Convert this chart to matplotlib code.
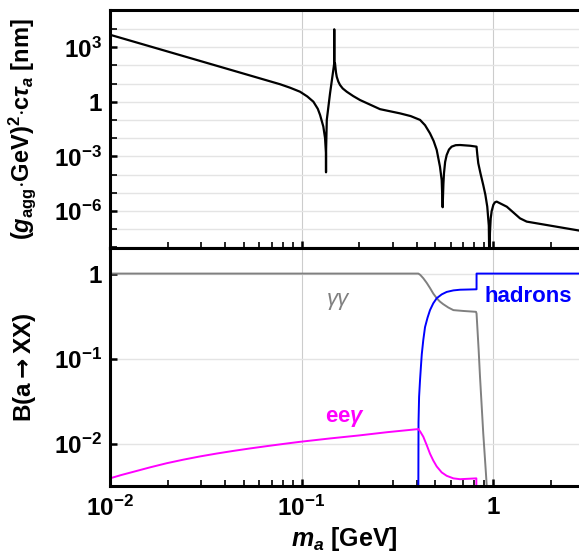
import numpy as np
import matplotlib
matplotlib.use("Agg")
import matplotlib.pyplot as plt
from matplotlib.ticker import FixedLocator, NullFormatter, FixedFormatter, LogLocator

plt.rcParams['font.family'] = ['Liberation Sans', 'DejaVu Sans']
plt.rcParams['font.weight'] = 'bold'
plt.rcParams['axes.labelweight'] = 'bold'
plt.rcParams['mathtext.fontset'] = 'custom'
plt.rcParams['mathtext.rm'] = 'Liberation Sans:bold'
plt.rcParams['mathtext.bf'] = 'Liberation Sans:bold'
plt.rcParams['mathtext.it'] = 'Liberation Sans:italic:bold'
plt.rcParams['mathtext.sf'] = 'DejaVu Sans'

# ---------------- data (log10 values) ----------------
# top panel: (g_agg GeV)^2 c tau_a [nm]  vs  m_a [GeV]
life_logm = [-2.0, -1.5, -1.2, -1.112, -1.06, -1.008, -0.97, -0.938, -0.915, -0.903, -0.886,
             -0.877, -0.8725, -0.872, -0.8715, -0.868, -0.851, -0.834, -0.8295, -0.829,
             -0.8285, -0.825, -0.82, -0.816, -0.808, -0.799, -0.785, -0.764, -0.73, -0.694,
             -0.59, -0.486, -0.43, -0.381, -0.355, -0.329, -0.31, -0.294, -0.277,
             -0.268, -0.263, -0.259, -0.256, -0.25, -0.242, -0.23, -0.216, -0.195, -0.172,
             -0.12, -0.086, -0.082, -0.077, -0.065, -0.051, -0.040, -0.030, -0.022, -0.019,
             -0.016, -0.012, -0.007, 0.002, 0.010, 0.019, 0.072, 0.141, 0.176, 0.449]
life_logy = [3.69, 2.16, 1.24, 0.97, 0.78, 0.56, 0.30, 0.01, -0.38, -0.72, -1.36,
             -2.0, -2.8, -3.87, -2.6, -0.99, 0.47, 1.75, 2.1, 3.99,
             2.15, 2.12, 1.62, 1.38, 1.12, 0.93, 0.74, 0.56, 0.32, 0.10,
             -0.40, -0.63, -0.78, -0.99, -1.28, -1.73, -2.15, -2.64, -3.56,
             -4.3, -5.79, -4.5, -3.92, -3.3, -2.92, -2.62, -2.46, -2.38, -2.37,
             -2.41, -2.46, -2.9, -3.37, -3.95, -4.57, -5.1, -5.76, -6.8, -9.0,
             -7.2, -6.4, -6.0, -5.65, -5.52, -5.48, -5.76, -6.40, -6.58, -7.07]

# bottom panel: branching ratios B(a -> XX)
gg_logm = [-2.0, -0.39, -0.38, -0.364, -0.346, -0.329, -0.312, -0.294, -0.277, -0.26,
           -0.233, -0.207, -0.155, -0.089, -0.086, -0.082, -0.075, -0.068, -0.051,
           -0.037, -0.030]
gg_logy = [0.0, 0.0, -0.015, -0.055, -0.11, -0.17, -0.235, -0.29, -0.33, -0.36,
           -0.40, -0.43, -0.44, -0.45, -0.47, -0.625, -0.9, -1.21, -1.88,
           -2.35, -2.6]

had_logm = [-0.390, -0.389, -0.386, -0.381, -0.376, -0.372, -0.364, -0.355, -0.342,
            -0.329, -0.312, -0.294, -0.268, -0.242, -0.207, -0.172, -0.086, -0.0859, 0.449]
had_logy = [-2.6, -1.75, -1.45, -1.25, -1.08, -0.95, -0.78, -0.63, -0.52,
            -0.43, -0.35, -0.29, -0.245, -0.216, -0.198, -0.19, -0.185, 0.0, 0.0]

eeg_logm = [-2.0, -1.94, -1.878, -1.79, -1.704, -1.617, -1.53, -1.443, -1.356, -1.269,
            -1.182, -1.095, -1.008, -0.85, -0.7, -0.55, -0.39,
            -0.38, -0.364, -0.346, -0.329, -0.312, -0.294, -0.268, -0.242,
            -0.207, -0.172, -0.087, -0.0869]
eeg_logy = [-2.41, -2.37, -2.333, -2.28, -2.232, -2.19, -2.152, -2.118, -2.087, -2.058,
            -2.031, -2.005, -1.98, -1.94, -1.905, -1.866, -1.83,
            -1.86, -1.92, -2.02, -2.12, -2.2, -2.27, -2.34, -2.38,
            -2.41, -2.42, -2.41, -2.6]

x_ticks = [0.01, 0.1, 1.0]
x_ticklabels = [r'$10^{-2}$', r'$10^{-1}$', '1']
top_yticks = [1e3, 1.0, 1e-3, 1e-6]
top_yticklabels = [r'$10^{3}$', '1', r'$10^{-3}$', r'$10^{-6}$']
bot_yticks = [1.0, 0.1, 0.01]
bot_yticklabels = ['1', r'$10^{-1}$', r'$10^{-2}$']

# ---------------- figure ----------------
W, H = 579, 559
fig = plt.figure(figsize=(W / 100, H / 100), dpi=100)
L = 110 / W
ax1 = fig.add_axes([L, 1 - 248 / H, 1 - L, (248 - 10) / H])
ax2 = fig.add_axes([L, 1 - 486 / H, 1 - L, (486 - 248) / H])

xmin, xmax = 0.01, 10 ** 0.449
TFS = 17.5

ax1.plot(np.power(10.0, life_logm), np.power(10.0, life_logy), color='black', lw=1.6)
ax1.set_ylim(10 ** -8.03, 10 ** 5.05)

ax2.plot(np.power(10.0, gg_logm), np.power(10.0, gg_logy), color='#808080', lw=1.4)
ax2.plot(np.power(10.0, had_logm), np.power(10.0, had_logy), color='#0000ff', lw=1.4)
ax2.plot(np.power(10.0, eeg_logm), np.power(10.0, eeg_logy), color='#ff00ff', lw=1.4)
ax2.set_ylim(10 ** -2.5, 2.0)

for ax in (ax1, ax2):
    ax.set_xscale('log')
    ax.set_yscale('log')
    ax.set_xlim(xmin, xmax)
    for s in ('left', 'top', 'bottom'):
        ax.spines[s].set_linewidth(2.2)
    ax.spines['right'].set_visible(False)
    ax.xaxis.set_major_locator(FixedLocator(x_ticks))
    ax.xaxis.set_minor_locator(LogLocator(base=10, subs=np.arange(2, 10)))
    ax.xaxis.set_minor_formatter(NullFormatter())
    ax.tick_params(which='major', axis='both', direction='in', length=5, width=1.8,
                   labelsize=TFS, top=False, right=False)
    ax.tick_params(which='minor', axis='x', direction='in', length=4, width=1.2,
                   top=False)
    ax.tick_params(axis='y', pad=6)
    for xv in x_ticks[1:]:
        ax.axvline(xv, color='#cccccc', lw=0.8, zorder=0)

ax1.xaxis.set_major_formatter(NullFormatter())
ax2.xaxis.set_major_formatter(FixedFormatter(x_ticklabels))
ax2.tick_params(axis='x', pad=7)

# top y ticks: labelled every three decades, tick + grid every decade
ax1.yaxis.set_major_locator(FixedLocator(top_yticks))
ax1.yaxis.set_major_formatter(FixedFormatter(top_yticklabels))
ax1.yaxis.set_minor_locator(FixedLocator([10.0 ** k for k in range(-8, 6)]))
ax1.yaxis.set_minor_formatter(NullFormatter())
ax1.tick_params(which='minor', axis='y', direction='in', length=5, width=1.2, right=False)
for k in range(-7, 5):
    ax1.axhline(10.0 ** k, color='#e4e4e4', lw=1.0, zorder=0)

ax2.yaxis.set_major_locator(FixedLocator(bot_yticks))
ax2.yaxis.set_major_formatter(FixedFormatter(bot_yticklabels))
ax2.yaxis.set_minor_locator(FixedLocator([]))
for yv in bot_yticks:
    ax2.axhline(yv, color='#e4e4e4', lw=1.0, zorder=0)

ax1.set_ylabel(r'$(g_{\mathrm{agg}}{\cdot}\mathrm{GeV})^{2}{\cdot}\mathrm{c}\tau_{a}$ [nm]',
               fontsize=17)
ax2.set_ylabel(r'B(a$\mathsf{\rightarrow}$XX)', fontsize=17.5)
ax1.yaxis.set_label_coords((38 - 110) / (W - 110), 0.5)
ax2.yaxis.set_label_coords((38 - 110) / (W - 110), 0.5)
ax2.set_xlabel(r'$m_a$ [GeV]', fontsize=18, labelpad=3)

ax2.text(0.155, 0.49, 'γγ', color='#808080', fontsize=16, fontweight='normal',
         fontstyle='italic', ha='center', va='center')
ax2.text(1.52, 0.537, 'hadrons', color='#0000ff', fontsize=16, fontweight='bold',
         ha='center', va='center')
ax2.text(0.169, 0.0199, r'ee$\gamma$', color='#ff00ff', fontsize=16, fontweight='bold',
         ha='center', va='center')

fig.savefig('out.png', dpi=100)
